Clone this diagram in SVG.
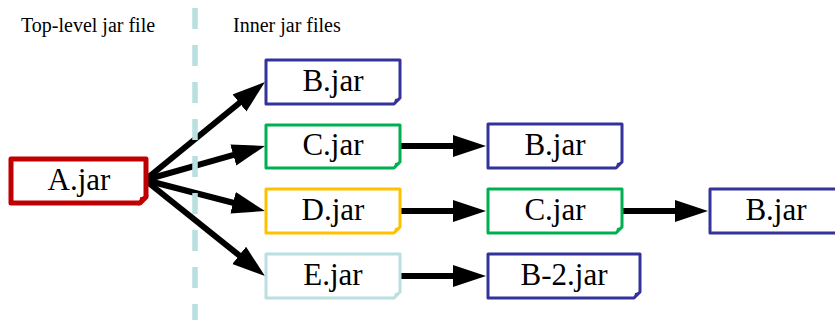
<svg xmlns="http://www.w3.org/2000/svg" width="835" height="320" viewBox="0 0 835 320">
<style>
.lbl{font-family:"Liberation Serif","Times New Roman",serif;font-size:20px;fill:#000}
.nt{font-family:"Liberation Serif","Times New Roman",serif;font-size:31px;fill:#000;text-anchor:middle}
.box{fill:#fff;stroke-width:3;stroke-linejoin:round}
.conn line{stroke:#000;stroke-width:6;marker-end:url(#ah)}
.blue{stroke:#333399}.blue-f{fill:#333399}
.green{stroke:#00B050}.green-f{fill:#00B050}
.orange{stroke:#FFC000}.orange-f{fill:#FFC000}
.lb{stroke:#B9DFE1}.lb-f{fill:#B9DFE1}
</style>
<defs>
<marker id="ah" markerUnits="userSpaceOnUse" markerWidth="34" markerHeight="23" refX="5" refY="11" orient="auto">
<path d="M0,0 L33,11 L0,22 Z" fill="#000"/>
</marker>
</defs>
<rect width="835" height="320" fill="#fff"/>
<text class="lbl" x="21" y="32">Top-level jar file</text>
<text class="lbl" x="233" y="32">Inner jar files</text>
<g class="conn">
<line x1="145" y1="180" x2="243.3" y2="99.7"/>
<line x1="145" y1="180" x2="238.1" y2="153.6"/>
<line x1="145" y1="180" x2="237.9" y2="204"/>
<line x1="145" y1="180" x2="243.1" y2="258.5"/>
<line x1="401" y1="146" x2="458" y2="146"/>
<line x1="401" y1="211" x2="458" y2="211"/>
<line x1="623" y1="211" x2="680" y2="211"/>
<line x1="401" y1="276" x2="458" y2="276"/>
</g>
<line x1="195" y1="8" x2="195" y2="320" stroke="#B9DFE1" stroke-width="5.5" stroke-dasharray="21 16"/>
<g id="A">
<path d="M11,159 H146 V197 L140,203 H11 Z" fill="#fff" stroke="#C00000" stroke-width="5" stroke-linejoin="round"/>
<path d="M140,203 L146,197 L141,198 Z" fill="#C00000" stroke="#C00000" stroke-width="2"/>
<text class="nt" x="79" y="190">A.jar</text>
</g>
<g id="B1">
<path class="box blue" d="M266,60 H400 V98 L394,104 H266 Z"/>
<path class="blue-f" d="M394,104 L400,98 L395,99 Z"/>
<text class="nt" x="333" y="91">B.jar</text>
</g>
<g id="C1">
<path class="box green" d="M266,125 H400 V162 L394,168 H266 Z"/>
<path class="green-f" d="M394,168 L400,162 L395,163 Z"/>
<text class="nt" x="333" y="155">C.jar</text>
</g>
<g id="D1">
<path class="box orange" d="M266,189 H400 V227 L394,233 H266 Z"/>
<path class="orange-f" d="M394,233 L400,227 L395,228 Z"/>
<text class="nt" x="333" y="220">D.jar</text>
</g>
<g id="E1">
<path class="box lb" d="M266,254 H400 V292 L394,298 H266 Z"/>
<path class="lb-f" d="M394,298 L400,292 L395,293 Z"/>
<text class="nt" x="333" y="285">E.jar</text>
</g>
<g id="B2">
<path class="box blue" d="M488,124 H622 V162 L616,168 H488 Z"/>
<path class="blue-f" d="M616,168 L622,162 L617,163 Z"/>
<text class="nt" x="555" y="155">B.jar</text>
</g>
<g id="C2">
<path class="box green" d="M488,189 H622 V227 L616,233 H488 Z"/>
<path class="green-f" d="M616,233 L622,227 L617,228 Z"/>
<text class="nt" x="555" y="220">C.jar</text>
</g>
<g id="B22">
<path class="box blue" d="M488,254 H640 V292 L634,298 H488 Z"/>
<path class="blue-f" d="M634,298 L640,292 L635,293 Z"/>
<text class="nt" x="564" y="285">B-2.jar</text>
</g>
<g id="B3">
<path class="box blue" d="M710,189 H844 V227 L838,233 H710 Z"/>
<text class="nt" x="776" y="220">B.jar</text>
</g>
</svg>
